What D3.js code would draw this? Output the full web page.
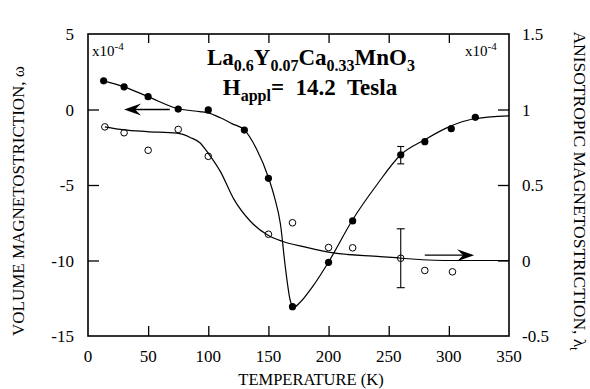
<meta charset="utf-8">
<style>
body { margin: 0; background: #fff; }
svg, text, tspan { font-family: "Liberation Serif", "Times New Roman", Times, "DejaVu Serif", serif; }
text { fill: #000; }
.frame { fill: none; stroke: #000; stroke-width: 1.6px; }
.tick line { stroke: #000; stroke-width: 1.3px; }
.fit { fill: none; stroke: #000; stroke-width: 1.2px; }
</style>
<body>
<script src="https://cdn.jsdelivr.net/npm/d3@7"></script>
<script>
// measured points, volume magnetostriction (left axis, x1e-4)
var volT = [13, 30, 50, 75, 100, 130, 150, 170, 200, 220, 260, 280, 302, 322];
var volW = [1.9, 1.5, 0.85, 0.03, -0.03, -1.36, -4.56, -13.06, -10.12, -7.38, -3.0, -2.13, -1.27, -0.52];

// measured points, anisotropic magnetostriction (right axis, x1e-4)
var aniT = [14, 30, 50, 75, 100, 150, 170, 200, 220, 260, 280, 303];
var aniL = [0.885, 0.846, 0.73, 0.868, 0.69, 0.174, 0.25, 0.086, 0.084, 0.015, -0.066, -0.075];

// fitted curves
var volFitT = [13, 30, 50, 75, 93, 100, 110, 120, 130, 140, 150, 155, 160, 164, 168, 171, 176, 187, 200, 220, 240, 260, 280, 300, 320, 350];
var volFitW = [1.9, 1.5, 0.85, 0.05, -0.14, -0.22, -0.55, -0.95, -1.35, -2.6, -4.5, -5.8, -7.6, -10.4, -12.6, -13.1, -12.8, -11.7, -10.1, -7.3, -5.0, -3.0, -2.0, -1.15, -0.63, -0.42];
var aniFitT = [14, 30, 49, 74, 85, 93, 100, 110, 121, 135, 149, 162, 180, 204, 243, 260, 300, 350];
var aniFitL = [0.885, 0.865, 0.854, 0.843, 0.815, 0.78, 0.71, 0.59, 0.41, 0.26, 0.17, 0.126, 0.09, 0.05, 0.026, 0.015, 0.0, 0.0];

// error bars at 260 K
var volErr = {t: 260, lo: -3.6, hi: -2.45};
var aniErr = {t: 260, lo: -0.18, hi: 0.21};

var xTicks = [0, 50, 100, 150, 200, 250, 300, 350];
var yLTicks = [5, 0, -5, -10, -15];
var yRTicks = [1.5, 1, 0.5, 0, -0.5];

var W = 590, H = 389;
var x = d3.scaleLinear().domain([0, 350]).range([88, 509]);
var yL = d3.scaleLinear().domain([-15, 5]).range([336, 34]);
var yR = d3.scaleLinear().domain([-0.5, 1.5]).range([336, 34]);

var svg = d3.select("body").append("svg")
    .attr("width", W)
    .attr("height", H)
    .attr("font-family", "'Liberation Serif', 'Times New Roman', Times, serif");

// frame
svg.append("rect").attr("class", "frame")
    .attr("x", x(0)).attr("y", yL(5))
    .attr("width", x(350) - x(0)).attr("height", yL(-15) - yL(5));

// axes with inward ticks
function strip(g) { g.select(".domain").remove(); g.selectAll("text").remove(); }
var inner = xTicks.filter(function(d) { return d > 0 && d < 350; });

svg.append("g")
    .attr("transform", "translate(0," + yL(-15) + ")")
    .call(d3.axisTop(x).tickValues(inner).tickSize(10))
    .call(strip);
svg.append("g")
    .attr("transform", "translate(0," + yL(5) + ")")
    .call(d3.axisBottom(x).tickValues(inner).tickSize(9))
    .call(strip);
svg.append("g")
    .attr("transform", "translate(" + x(0) + ",0)")
    .call(d3.axisRight(yL).tickValues(yLTicks.slice(1, 4)).tickSize(11))
    .call(strip);
svg.append("g")
    .attr("transform", "translate(" + x(350) + ",0)")
    .call(d3.axisLeft(yR).tickValues(yRTicks.slice(1, 4)).tickSize(11))
    .call(strip);

// tick labels
svg.selectAll(".xl").data(xTicks).enter().append("text")
    .attr("x", function(d) { return x(d); })
    .attr("y", 362)
    .attr("text-anchor", "middle")
    .style("font-size", "17px")
    .text(function(d) { return d; });
svg.selectAll(".yl").data(yLTicks).enter().append("text")
    .attr("x", 74)
    .attr("y", function(d) { return yL(d); })
    .attr("dy", "0.36em")
    .attr("text-anchor", "end")
    .style("font-size", "17px")
    .text(function(d) { return d; });
svg.selectAll(".yr").data(yRTicks).enter().append("text")
    .attr("x", 522)
    .attr("y", function(d) { return yR(d); })
    .attr("dy", "0.36em")
    .style("font-size", "17px")
    .text(function(d) { return d; });

// axis titles
svg.append("text")
    .attr("x", 311).attr("y", 385)
    .attr("text-anchor", "middle")
    .style("font-size", "16.5px")
    .text("TEMPERATURE (K)");
svg.append("text")
    .attr("transform", "translate(24,201) rotate(-90)")
    .attr("text-anchor", "middle")
    .style("font-size", "17px")
    .text("VOLUME MAGNETOSTRICTION, ω");
var rt = svg.append("text")
    .attr("transform", "translate(574,191) rotate(90)")
    .attr("text-anchor", "middle")
    .style("font-size", "17.5px");
rt.append("tspan").text("ANISOTROPIC MAGNETOSTRICTION, λ");
rt.append("tspan").attr("dy", 4).style("font-size", "12px").text("t");

// x10^-4 markers
function sci(px, py) {
  var t = svg.append("text").attr("x", px).attr("y", py).style("font-size", "15px");
  t.append("tspan").text("x10");
  t.append("tspan").attr("dy", -6).style("font-size", "11px").text("-4");
}
sci(92, 56);
sci(465, 56);

// title
var t1 = svg.append("text")
    .attr("x", 311).attr("y", 65)
    .attr("text-anchor", "middle")
    .style("font-size", "23px").style("font-weight", "bold");
[["La", 0], ["0.6", 1], ["Y", 0], ["0.07", 1], ["Ca", 0], ["0.33", 1], ["MnO", 0], ["3", 1]].forEach(function(p, i, arr) {
  var prev = i > 0 ? arr[i - 1][1] : 0;
  t1.append("tspan")
      .attr("dy", p[1] === prev ? 0 : (p[1] ? 6 : -6))
      .style("font-size", p[1] ? "16px" : "23px")
      .text(p[0]);
});
var t2 = svg.append("text")
    .attr("x", 310).attr("y", 95)
    .attr("text-anchor", "middle")
    .style("font-size", "23px").style("font-weight", "bold");
t2.append("tspan").text("H");
t2.append("tspan").attr("dy", 6).style("font-size", "16px").text("appl");
t2.append("tspan").attr("dy", -6).text("=\u00a0 14.2\u00a0 Tesla");

// fitted curves
var line = function(ys) {
  return d3.line()
      .x(function(d) { return x(d[0]); })
      .y(function(d) { return ys(d[1]); })
      .curve(d3.curveMonotoneX);
};
svg.append("path").attr("class", "fit")
    .attr("d", line(yL)(d3.zip(volFitT, volFitW)));
svg.append("path").attr("class", "fit")
    .attr("d", line(yR)(d3.zip(aniFitT, aniFitL)));

// error bars
function errBar(e, ys, cap) {
  var g = svg.append("g").attr("stroke", "#000").attr("stroke-width", 1.1);
  g.append("line").attr("x1", x(e.t)).attr("x2", x(e.t)).attr("y1", ys(e.lo)).attr("y2", ys(e.hi));
  [e.lo, e.hi].forEach(function(v) {
    g.append("line").attr("x1", x(e.t) - cap).attr("x2", x(e.t) + cap).attr("y1", ys(v)).attr("y2", ys(v));
  });
}
errBar(volErr, yL, 3.5);
errBar(aniErr, yR, 4);

// markers
svg.selectAll(".vol").data(d3.zip(volT, volW)).enter().append("circle")
    .attr("cx", function(d) { return x(d[0]); })
    .attr("cy", function(d) { return yL(d[1]); })
    .attr("r", 3.6)
    .attr("fill", "#000");
svg.selectAll(".ani").data(d3.zip(aniT, aniL)).enter().append("circle")
    .attr("cx", function(d) { return x(d[0]); })
    .attr("cy", function(d) { return yR(d[1]); })
    .attr("r", 3.3)
    .attr("fill", "none")
    .attr("stroke", "#000")
    .attr("stroke-width", 1);

// arrows pointing at each axis
function arrow(x0, x1, py) {
  var dir = x1 > x0 ? 1 : -1;
  var tip = x(x1), yy = py;
  svg.append("line")
      .attr("x1", x(x0)).attr("x2", tip - dir * 8)
      .attr("y1", yy).attr("y2", yy)
      .attr("stroke", "#000").attr("stroke-width", 1.3);
  svg.append("path")
      .attr("d", "M" + tip + "," + yy +
                 "L" + (tip - dir * 17) + "," + (yy - 6) +
                 "L" + (tip - dir * 11) + "," + yy +
                 "L" + (tip - dir * 17) + "," + (yy + 6) + "Z")
      .attr("fill", "#000");
}
arrow(68, 30, yL(0));
arrow(280, 321, yR(0.035));
</script>
</body>
